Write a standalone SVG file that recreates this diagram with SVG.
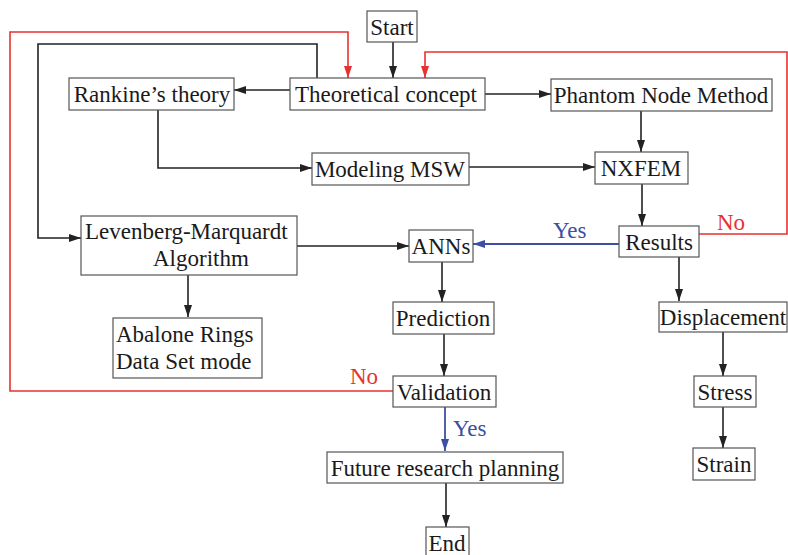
<svg xmlns="http://www.w3.org/2000/svg" width="788" height="555" viewBox="0 0 788 555">
<defs>
<style>
.box{fill:#fff;stroke:#555;stroke-width:1.2}
.t{font-family:"Liberation Serif","Times New Roman",serif;font-size:23px;fill:#1a1a1a}
.c{text-anchor:middle}
.k{fill:none;stroke:#222;stroke-width:1.6}
.r{fill:none;stroke:#e8322f;stroke-width:1.6}
.b{fill:none;stroke:#3b4fa3;stroke-width:1.8}
.lr{font-family:"Liberation Serif","Times New Roman",serif;font-size:23px;fill:#e8322f}
.lb{font-family:"Liberation Serif","Times New Roman",serif;font-size:23px;fill:#3b4fa3}
</style>
<marker id="ak" markerUnits="userSpaceOnUse" markerWidth="13" markerHeight="8" refX="12" refY="4" orient="auto"><path d="M0,0 L12,4 L0,8 z" fill="#222"/></marker>
<marker id="ar" markerUnits="userSpaceOnUse" markerWidth="13" markerHeight="8" refX="12" refY="4" orient="auto"><path d="M0,0 L12,4 L0,8 z" fill="#e8322f"/></marker>
<marker id="ab" markerUnits="userSpaceOnUse" markerWidth="13" markerHeight="8" refX="12" refY="4" orient="auto"><path d="M0,0 L12,4 L0,8 z" fill="#3b4fa3"/></marker>
</defs>
<rect width="788" height="555" fill="#fff"/>
<g id="connectors">
<path class="k" d="M393,42 V78" marker-end="url(#ak)"/>
<path class="k" d="M290,90 H234" marker-end="url(#ak)"/>
<path class="k" d="M485,94 H551" marker-end="url(#ak)"/>
<path class="k" d="M641,111 V152" marker-end="url(#ak)"/>
<path class="k" d="M158,110 V168 H312" marker-end="url(#ak)"/>
<path class="k" d="M469,167 H595" marker-end="url(#ak)"/>
<path class="k" d="M642,184 V226" marker-end="url(#ak)"/>
<path class="b" d="M619,244 H473" marker-end="url(#ab)"/>
<path class="r" d="M699,234 H787 V52 H425 V78" marker-end="url(#ar)"/>
<path class="k" d="M317,78 V44 H38 V238 H81" marker-end="url(#ak)"/>
<path class="k" d="M297,246 H409" marker-end="url(#ak)"/>
<path class="k" d="M188,275 V317" marker-end="url(#ak)"/>
<path class="k" d="M442,262 V302" marker-end="url(#ak)"/>
<path class="k" d="M444,334 V376" marker-end="url(#ak)"/>
<path class="r" d="M393,391 H10 V32 H348 V78" marker-end="url(#ar)"/>
<path class="b" d="M445,407 V451" marker-end="url(#ab)"/>
<path class="k" d="M446,483 V527" marker-end="url(#ak)"/>
<path class="k" d="M679,257 V301" marker-end="url(#ak)"/>
<path class="k" d="M723,332 V376" marker-end="url(#ak)"/>
<path class="k" d="M723,407 V448" marker-end="url(#ak)"/>
<text class="lr" x="717" y="230">No</text>
<text class="lr" x="350" y="384">No</text>
<text class="lb" x="553" y="238">Yes</text>
<text class="lb" x="453" y="436">Yes</text>
</g>
<g id="start"><rect class="box" x="367" y="11" width="50" height="31"/><text class="t c" x="392" y="35">Start</text></g>
<g id="theoretical"><rect class="box" x="290" y="78" width="195" height="32"/><text class="t c" x="386" y="102">Theoretical concept</text></g>
<g id="rankine"><rect class="box" x="69" y="78" width="165" height="32"/><text class="t c" x="152" y="102">Rankine’s theory</text></g>
<g id="phantom"><rect class="box" x="551" y="79" width="221" height="32"/><text class="t c" x="661" y="103">Phantom Node Method</text></g>
<g id="modeling"><rect class="box" x="312" y="153" width="157" height="32"/><text class="t c" x="390" y="177">Modeling MSW</text></g>
<g id="nxfem"><rect class="box" x="595" y="152" width="93" height="32"/><text class="t c" x="641" y="176">NXFEM</text></g>
<g id="results"><rect class="box" x="619" y="226" width="80" height="31"/><text class="t c" x="659" y="250">Results</text></g>
<g id="levenberg"><rect class="box" x="81" y="216" width="216" height="59"/><text class="t" x="85" y="239">Levenberg-Marquardt</text><text class="t" x="153" y="266">Algorithm</text></g>
<g id="anns"><rect class="box" x="409" y="230" width="64" height="32"/><text class="t c" x="441" y="254">ANNs</text></g>
<g id="abalone"><rect class="box" x="113" y="318" width="149" height="60"/><text class="t" x="116" y="342">Abalone Rings</text><text class="t" x="116" y="369">Data Set mode</text></g>
<g id="prediction"><rect class="box" x="393" y="302" width="101" height="32"/><text class="t c" x="443" y="326">Prediction</text></g>
<g id="validation"><rect class="box" x="393" y="376" width="103" height="31"/><text class="t c" x="444" y="400">Validation</text></g>
<g id="future"><rect class="box" x="327" y="452" width="236" height="31"/><text class="t c" x="445" y="476">Future research planning</text></g>
<g id="end"><rect class="box" x="426" y="527" width="43" height="32"/><text class="t c" x="447" y="551">End</text></g>
<g id="displacement"><rect class="box" x="659" y="302" width="128" height="30"/><text class="t c" x="723" y="325">Displacement</text></g>
<g id="stress"><rect class="box" x="694" y="376" width="62" height="31"/><text class="t c" x="725" y="400">Stress</text></g>
<g id="strain"><rect class="box" x="693" y="448" width="62" height="32"/><text class="t c" x="724" y="472">Strain</text></g>
</svg>
